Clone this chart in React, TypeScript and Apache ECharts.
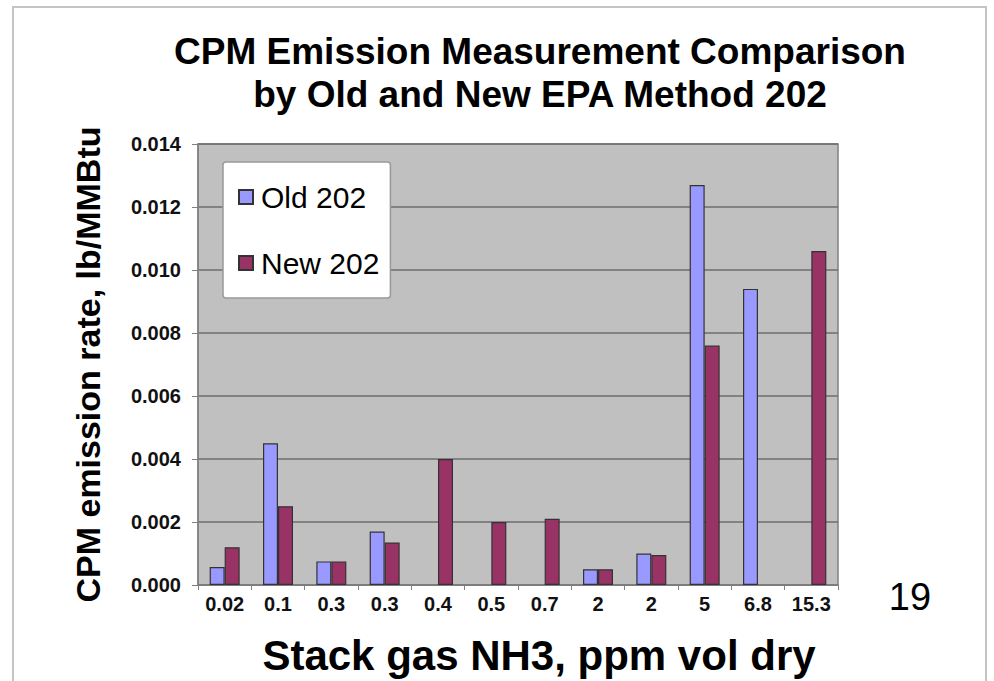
import React, { useEffect, useRef } from "react";
import * as echarts from "echarts";

const categories = ["0.02", "0.1", "0.3", "0.3", "0.4", "0.5", "0.7", "2", "2", "5", "6.8", "15.3"];
const oldValues = [0.00057, 0.0045, 0.00075, 0.0017, null, null, null, 0.0005, 0.001, 0.0127, 0.0094, null];
const newValues = [0.0012, 0.0025, 0.00075, 0.00135, 0.004, 0.002, 0.0021, 0.0005, 0.00095, 0.0076, null, 0.0106];
const yTicks = { min: 0, max: 0.014, interval: 0.002 };

const FONT = "'Liberation Sans', Arial, Helvetica, sans-serif";

export default function App() {
  const ref = useRef<HTMLDivElement>(null);
  useEffect(() => {
    if (!ref.current) return;
    const chart = echarts.init(ref.current, null, { renderer: "svg" });
    chart.setOption({
      animation: false,
      backgroundColor: "#ffffff",
      textStyle: { fontFamily: FONT },
      title: {
        text: "CPM Emission Measurement Comparison\nby Old and New EPA Method 202",
        left: 540,
        top: 30,
        padding: 0,
        textAlign: "center",
        textStyle: { fontSize: 37, fontWeight: "bold", lineHeight: 43, color: "#000", fontFamily: FONT },
      },
      legend: {
        orient: "vertical",
        left: 223,
        top: 162,
        padding: [20, 11, 20, 15],
        itemGap: 36,
        itemWidth: 14,
        itemHeight: 14,
        icon: "rect",
        backgroundColor: "#ffffff",
        borderColor: "#999",
        borderWidth: 1.5,
        borderRadius: 3,
        textStyle: { fontSize: 30, lineHeight: 30, color: "#000", fontFamily: FONT, padding: [0, 0, 0, 3] },
        data: ["Old 202", "New 202"],
      },
      grid: {
        left: 198,
        top: 144,
        width: 640,
        height: 443,
        show: true,
        backgroundColor: "#c0c0c0",
        borderColor: "#808080",
        borderWidth: 1.5,
      },
      xAxis: {
        type: "category",
        data: categories,
        name: "Stack gas NH3, ppm vol dry",
        nameLocation: "middle",
        nameGap: 49,
        nameTextStyle: { fontSize: 42, fontWeight: "bold", color: "#000", padding: [0, 0, 0, 42], fontFamily: FONT },
        axisLine: { lineStyle: { color: "#808080", width: 1.5 } },
        axisTick: { show: true, length: 5, lineStyle: { color: "#808080" } },
        axisLabel: { fontSize: 20, fontWeight: "bold", color: "#111", margin: 9, interval: 0, fontFamily: FONT },
      },
      yAxis: {
        type: "value",
        min: yTicks.min,
        max: yTicks.max,
        interval: yTicks.interval,
        name: "CPM emission rate, lb/MMBtu",
        nameLocation: "middle",
        nameRotate: 90,
        nameGap: 93,
        nameTextStyle: { fontSize: 34, fontWeight: "bold", color: "#000", fontFamily: FONT },
        axisLine: { show: true, lineStyle: { color: "#808080", width: 1.5 } },
        axisTick: { show: true, length: 6, lineStyle: { color: "#808080" } },
        axisLabel: {
          fontSize: 20,
          fontWeight: "bold",
          color: "#111",
          margin: 17,
          fontFamily: FONT,
          formatter: (v: number) => v.toFixed(3),
        },
        splitLine: { show: true, lineStyle: { color: "#6e6e6e", width: 1.5 } },
      },
      series: [
        {
          name: "Old 202",
          type: "bar",
          data: oldValues,
          barWidth: 15,
          barGap: "0%",
          itemStyle: { color: "#9999ff", borderColor: "#333", borderWidth: 1.2 },
        },
        {
          name: "New 202",
          type: "bar",
          data: newValues,
          barWidth: 15,
          barGap: "0%",
          itemStyle: { color: "#993366", borderColor: "#333", borderWidth: 1.2 },
        },
      ],
      graphic: [
        {
          type: "rect",
          shape: { x: 13, y: 7, width: 973, height: 700 },
          style: { fill: "none", stroke: "#c4c4c4", lineWidth: 2 },
          silent: true,
        },
        {
          type: "text",
          x: 910,
          y: 597,
          style: { text: "19", fontSize: 38, fill: "#000", align: "center", verticalAlign: "middle", fontFamily: FONT },
        },
      ],
    });
    return () => chart.dispose();
  }, []);
  return <div ref={ref} style={{ position: "fixed", left: 0, top: 0, width: 994, height: 681 }} />;
}
